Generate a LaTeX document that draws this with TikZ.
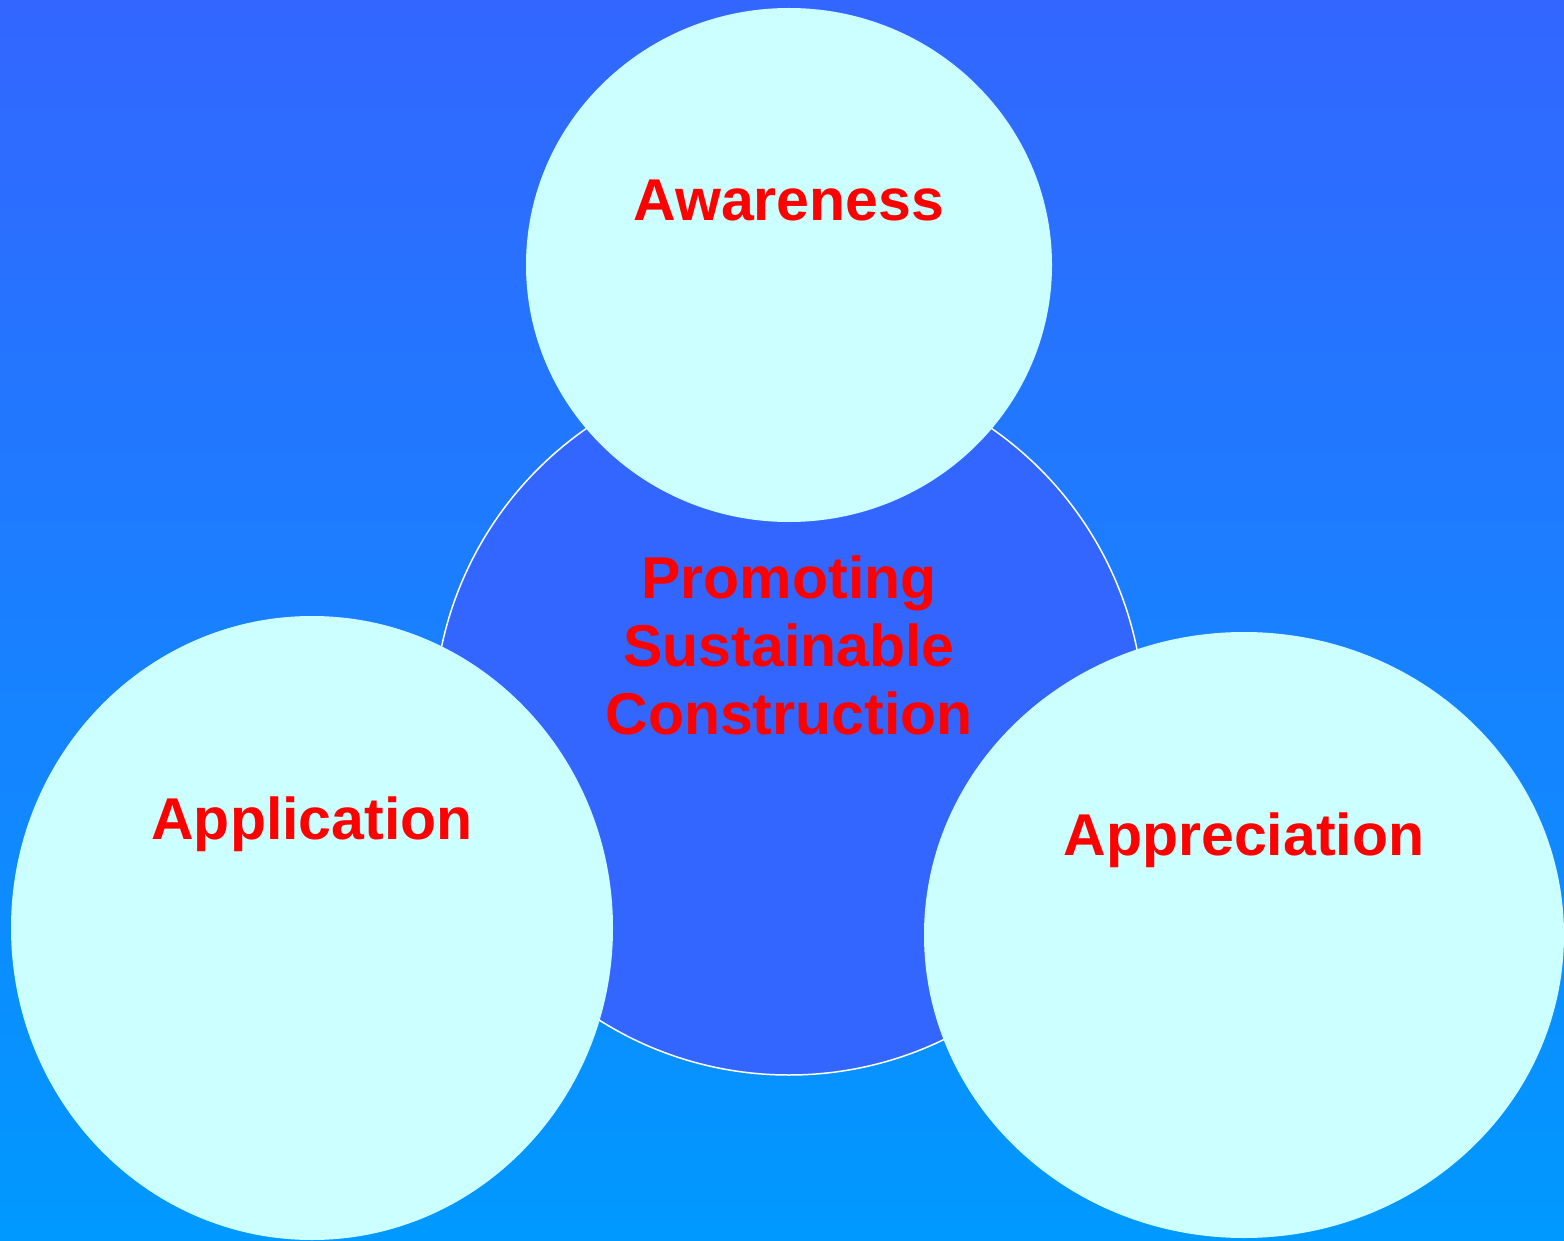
\documentclass[tikz,border=0pt]{standalone}
\usepackage{fontspec}
\setmainfont{Liberation Sans}
\begin{document}
\begin{tikzpicture}[x=1pt,y=-1pt,
  lbl/.style={text=red, font=\fontsize{59}{68}\selectfont\bfseries, align=center},
  petal/.style={fill=petalcol, draw=none}]
\definecolor{topcol}{HTML}{3366FF}
\definecolor{botcol}{HTML}{0099FF}
\definecolor{petalcol}{HTML}{CCFFFF}
\definecolor{corecol}{HTML}{3366FF}
\shade[top color=topcol, bottom color=botcol] (0,0) rectangle (1564,1241);
\useasboundingbox (0,0) rectangle (1564,1241);
\draw[fill=corecol, draw=white, line width=1.5pt] (789,720) circle [radius=355];
\fill[petal] (789,265) ellipse [x radius=263, y radius=257];
\fill[petal] (312,928) ellipse [x radius=301, y radius=312];
\fill[petal] (1244,935) ellipse [x radius=320, y radius=303];
\node[lbl] (central) at (789,645) {Promoting\\Sustainable\\Construction};
\node[lbl] (aware) at (789,200) {Awareness};
\node[lbl] (appl) at (312,824) {Application};
\node[lbl] (appr) at (1244,840) {Appreciation};
\end{tikzpicture}
\end{document}
